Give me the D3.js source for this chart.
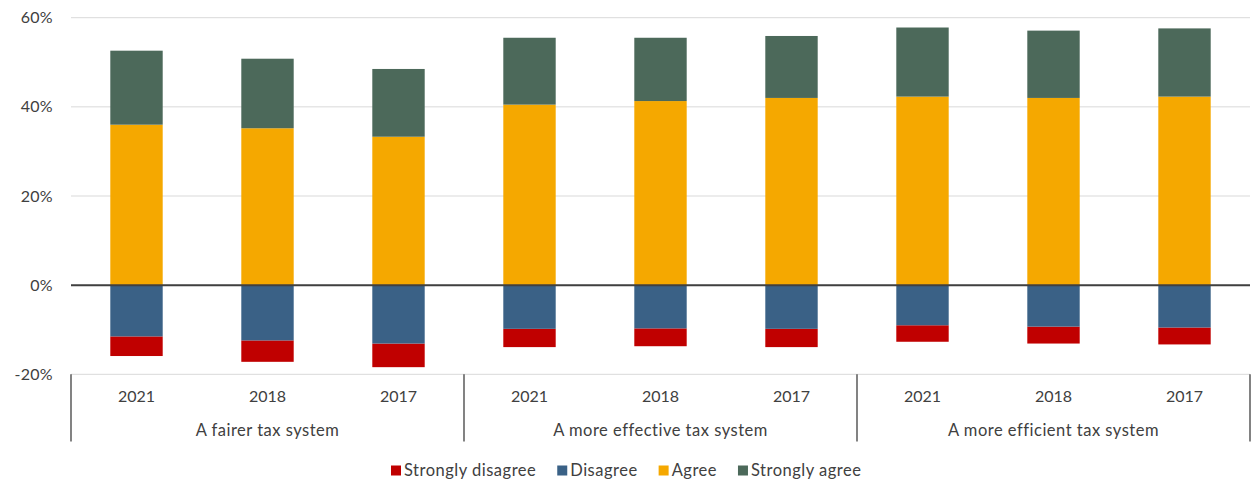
<!DOCTYPE html>
<html><head><meta charset="utf-8">
<script src="https://cdn.jsdelivr.net/npm/d3@7"></script>
<style>
body{margin:0;background:#fff;}
text{font-family:Lato,"Noto Sans",sans-serif;fill:#404040;}
</style></head>
<body><svg id="chart" width="1251" height="483"></svg>
<script>
const groups = ["A fairer tax system","A more effective tax system","A more efficient tax system"];
const years = ["2021","2018","2017"];
const seriesNames = ["Strongly disagree","Disagree","Agree","Strongly agree"];
const seriesColors = ["#c00000","#3a6186","#f5a800","#4c695a"];
// values per bar (group-major order), percent
const stronglyDisagree = [4.4,4.8,5.3, 4.1,4.0,4.1, 3.7,3.8,3.8];
const disagree         = [11.5,12.4,13.1, 9.8,9.7,9.8, 9.0,9.3,9.5];
const agree            = [36.0,35.2,33.3, 40.5,41.3,42.0, 42.3,42.0,42.3];
const stronglyAgree    = [16.6,15.6,15.2, 15.0,14.2,13.9, 15.5,15.1,15.3];
const yTicks = [-20,0,20,40,60];

const svg = d3.select("#chart");
const mLeft = 71, mRight = 1250, mTop = 17.7, mBottom = 374.3;

const bars = [];
groups.forEach((g,gi)=>years.forEach((yr,yi)=>{
  const i = gi*3+yi;
  bars.push({key:g+"|"+yr, group:g, year:yr, sd:stronglyDisagree[i], d:disagree[i], a:agree[i], sa:stronglyAgree[i]});
}));

const x = d3.scaleBand().domain(bars.map(b=>b.key)).range([mLeft,mRight]).paddingInner(0.6).paddingOuter(0.3);
const y = d3.scaleLinear().domain([-20,60]).range([mBottom,mTop]);

// gridlines
svg.append("g").selectAll("line").data(yTicks).join("line")
  .attr("x1",mLeft).attr("x2",mRight)
  .attr("y1",d=>y(d)).attr("y2",d=>y(d))
  .attr("stroke","#d9d9d9").attr("stroke-width",1);

// y axis labels
const yAxis = d3.axisLeft(y).tickValues(yTicks).tickSize(0).tickPadding(0).tickFormat(d=>d+"%");
const ya = svg.append("g").attr("transform",`translate(${mLeft-18},0)`).call(yAxis);
ya.select(".domain").remove();
ya.selectAll("text").style("font-family","Lato,'Noto Sans',sans-serif").style("font-size","16px").attr("fill","#595959").style("letter-spacing","0.3px");

// bars
const bw = x.bandwidth();
bars.forEach(b=>{
  const segs = [
    {v0:-(b.d), v1:-(b.d+b.sd), c:seriesColors[0]},
    {v0:0, v1:-b.d, c:seriesColors[1]},
    {v0:0, v1:b.a, c:seriesColors[2]},
    {v0:b.a, v1:b.a+b.sa, c:seriesColors[3]}
  ];
  svg.append("g").selectAll("rect").data(segs).join("rect")
    .attr("x",x(b.key)).attr("width",bw)
    .attr("y",s=>Math.min(y(s.v0),y(s.v1)))
    .attr("height",s=>Math.abs(y(s.v0)-y(s.v1)))
    .attr("fill",s=>s.c);
});

// zero line
svg.append("line").attr("x1",mLeft).attr("x2",mRight).attr("y1",y(0)).attr("y2",y(0))
  .attr("stroke","#404040").attr("stroke-width",2);

// year labels
svg.append("g").selectAll("text").data(bars).join("text")
  .attr("x",b=>x(b.key)+bw/2).attr("y",402)
  .attr("text-anchor","middle").style("font-size","16px").text(b=>b.year);

// group separators and labels
const gw = (mRight-mLeft)/groups.length;
const seps = d3.range(groups.length+1).map(i=>mLeft+i*gw);
svg.append("g").selectAll("line").data(seps).join("line")
  .attr("x1",d=>d).attr("x2",d=>d).attr("y1",mBottom).attr("y2",441.5)
  .attr("stroke","#404040").attr("stroke-width",1.3);
svg.append("g").selectAll("text").data(groups).join("text")
  .attr("x",(d,i)=>mLeft+gw*(i+0.5)).attr("y",436)
  .attr("text-anchor","middle").style("font-size","16.5px").style("letter-spacing","0.5px").text(d=>d);

// legend
const lg = svg.append("g");
let lx = 391;
const ly = 470.5;
seriesNames.forEach((n,i)=>{
  lg.append("rect").attr("x",lx).attr("y",ly-5).attr("width",10).attr("height",10).attr("fill",seriesColors[i]);
  const t = lg.append("text").attr("x",lx+13).attr("y",ly+5.5).style("font-size","16.5px").style("letter-spacing","0.5px").text(n);
  lx += 13 + t.node().getComputedTextLength() + 21;
});
</script></body></html>
